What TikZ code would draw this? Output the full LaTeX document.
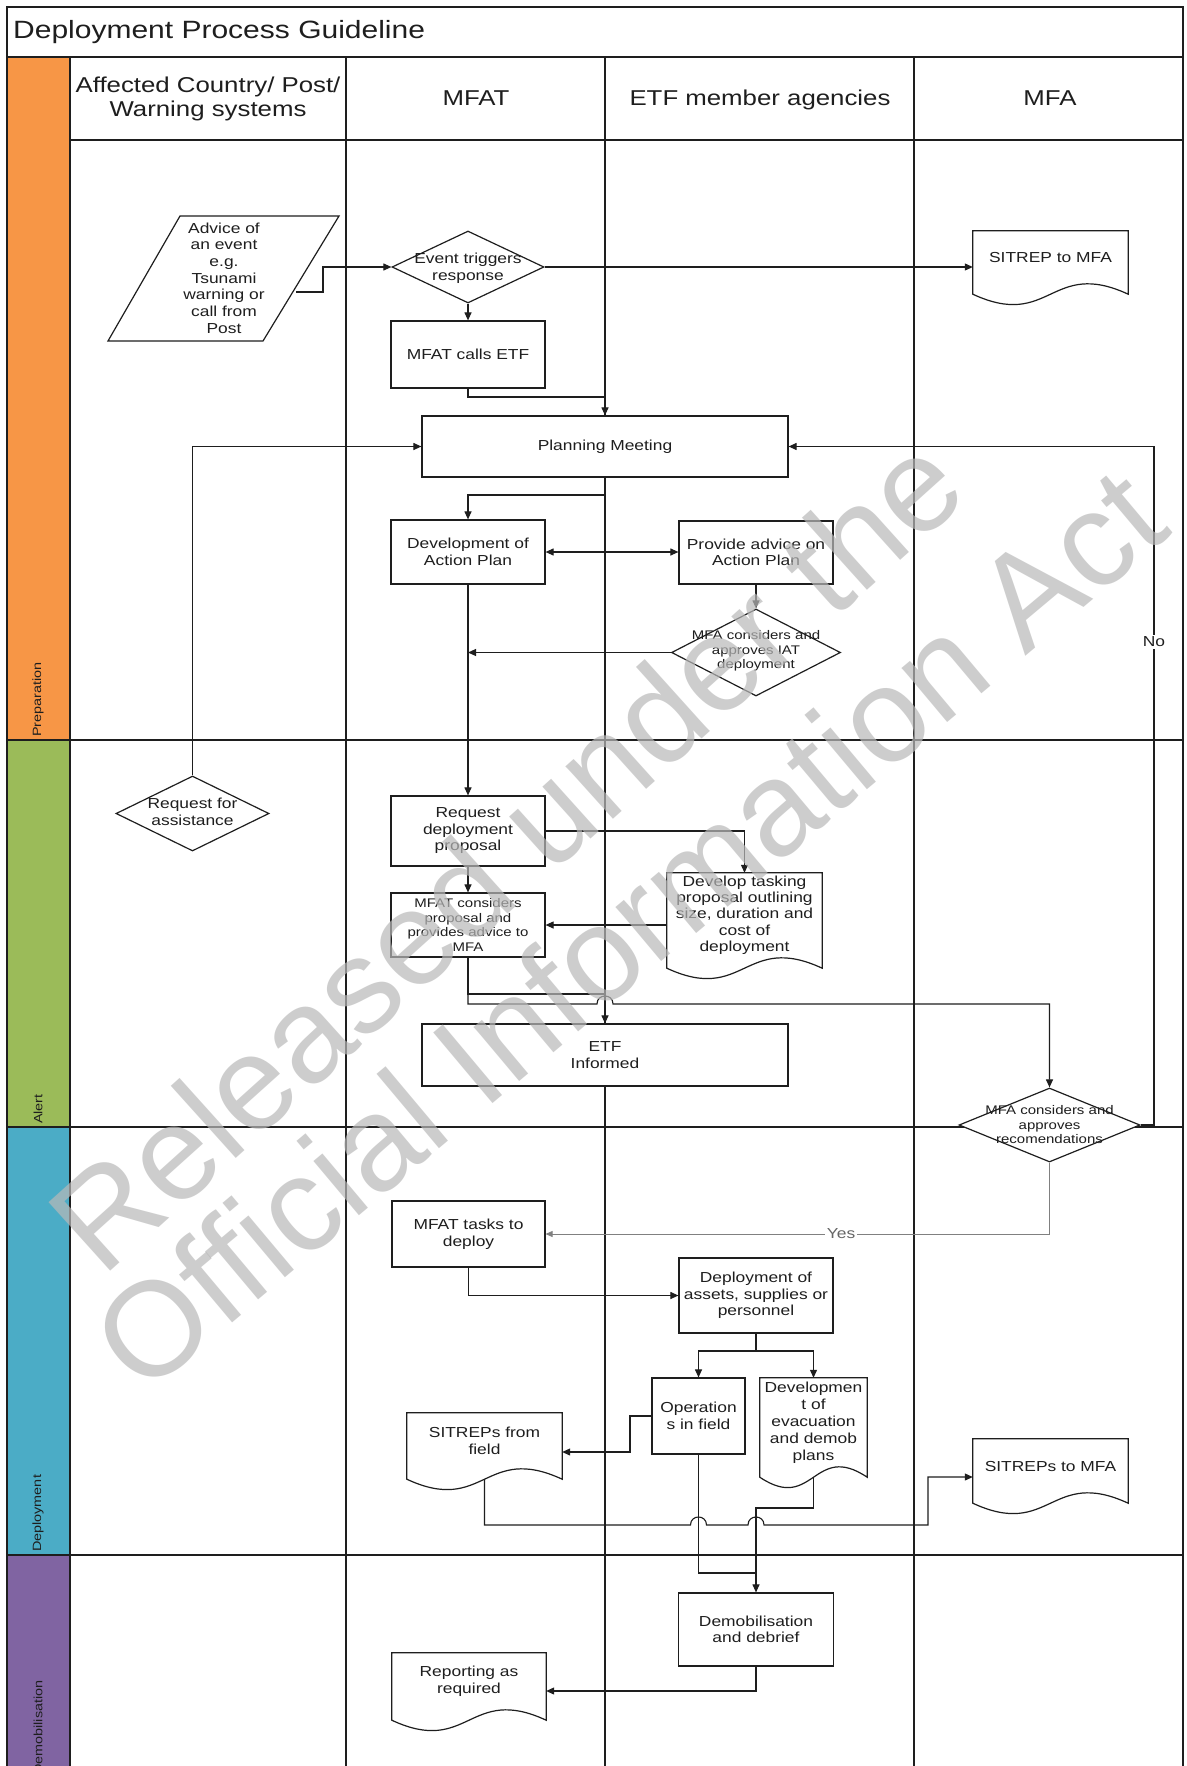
\documentclass[tikz,border=0pt]{standalone}
\usepackage{fontspec}
\setmainfont{Liberation Sans}[FakeStretch=1.2]
\newfontfamily\wmfont{Liberation Sans}
\usetikzlibrary{arrows.meta,shapes.geometric}
\definecolor{cprep}{RGB}{247,150,70}
\definecolor{calert}{RGB}{155,187,89}
\definecolor{cdeploy}{RGB}{75,172,198}
\definecolor{cdemob}{RGB}{128,100,162}
\definecolor{ink}{RGB}{30,30,30}
\pgfdeclarelayer{bg}
\pgfdeclarelayer{wm}
\pgfsetlayers{bg,main,wm}
\newcommand{\fs}[2]{\fontsize{#1}{#2}\selectfont}
\newcommand{\docoutline}[1]{%
 \draw[shapeline] (#1.south west) -- (#1.north west) -- (#1.north east) -- (#1.south east)
 .. controls ([yshift=36pt]#1.south) and ([yshift=-36pt]#1.south) .. (#1.south west) -- cycle;}
\begin{document}
\begin{tikzpicture}[x=1pt,y=-1pt,
 lane/.style={draw=ink, line width=1.6pt},
 conn/.style={draw=ink, line width=1.1pt},
 arr/.style={conn, -{Triangle[length=8pt,width=7pt]}},
 darr/.style={conn, {Triangle[length=8pt,width=7pt]}-{Triangle[length=8pt,width=7pt]}},
 yesline/.style={draw=gray, line width=0.8pt, -{Triangle[length=7pt,width=6pt]}},
 box/.style={draw=ink, fill=white, line width=1.2pt, align=center, inner sep=0pt, text=ink, font=\fs{14.5}{16.5}},
 shapeline/.style={draw=ink, fill=white, line width=1.2pt},
 doc/.style={inner sep=0pt},
 dia/.style={diamond, draw=ink, fill=white, line width=1.2pt, inner sep=0pt},
 txt/.style={align=center, inner sep=0pt, text=ink, font=\fs{14.5}{16.5}},
 small/.style={font=\fs{12.5}{14.5}},
 head/.style={align=center, text=ink, font=\fs{21.5}{24}},
 phase/.style={rotate=90, anchor=west, text=ink, font=\fs{12}{14}, inner sep=0pt},
 wm/.style={font=\wmfont\fs{134}{134}, text=gray!55, opacity=0.7, inner sep=0pt},
]
\useasboundingbox (0,0) rectangle (1186,1766);

% ---------- background: bands, frame, lanes ----------
\begin{pgfonlayer}{bg}
\fill[white] (0,0) rectangle (1186,1766);
\fill[cprep] (7,57) rectangle (70,740);
\fill[calert] (7,740) rectangle (70,1127);
\fill[cdeploy] (7,1127) rectangle (70,1555);
\fill[cdemob] (7,1555) rectangle (70,1800);
\draw[lane] (7,1800) -- (7,7) -- (1183,7) -- (1183,1800);
\draw[lane] (7,57) -- (1183,57);
\draw[lane] (70,140) -- (1183,140);
\draw[lane] (70,57) -- (70,1800);
\draw[lane] (346,57) -- (346,1800);
\draw[lane] (605,57) -- (605,1800);
\draw[lane] (914,57) -- (914,1800);
\draw[lane] (7,740) -- (1183,740);
\draw[lane] (7,1127) -- (1183,1127);
\draw[lane] (7,1555) -- (1183,1555);
\end{pgfonlayer}

% ---------- titles ----------
\node[anchor=base west, text=ink, font=\fs{25}{30}, inner sep=0pt] (title) at (13,38.5) {Deployment Process Guideline};
\node[head] (hA) at (208,99) {Affected Country/ Post/\\Warning systems};
\node[head] (hB) at (476,98) {MFAT};
\node[head, anchor=base] (hC) at (760,106) {ETF member agencies};
\node[head, anchor=base] (hD) at (1050,106) {MFA};
\node[phase] (p1) at (38,737) {Preparation};
\node[phase] (p2) at (38,1124) {Alert};
\node[phase] (p3) at (38,1552) {Deployment};
\node[phase] (p4) at (38,1775) {Demobilisation};

% ---------- shapes ----------
\draw[shapeline] (180,216) -- (339,216) -- (263,341) -- (108,341) -- cycle;
\node[txt, font=\fs{14.5}{16.7}] (adv) at (224,278) {Advice of\\an event\\e.g.\\Tsunami\\warning or\\call from\\Post};
\coordinate (advR) at (296,292);

\node[dia, minimum width=152pt, minimum height=72pt] (evt) at (468,267) {};
\node[txt] (evtT) at (468,268) {Event triggers\\response};

\node[doc, minimum width=155pt, minimum height=63pt] (sitA) at (1050.5,262.5) {};
\docoutline{sitA}
\node[txt] (sitAT) at (1050.5,258) {SITREP to MFA};

\node[box, minimum width=154pt, minimum height=67pt] (calls) at (468,354.5) {MFAT calls ETF};
\node[box, minimum width=366pt, minimum height=61pt] (plan) at (605,446.5) {Planning Meeting};
\node[box, minimum width=154pt, minimum height=64pt] (dap) at (468,552) {Development of\\Action Plan};
\node[box, minimum width=154pt, minimum height=63pt] (pad) at (756,552.5) {Provide advice on\\Action Plan};
\node[dia, minimum width=169pt, minimum height=87pt] (iat) at (756,652.5) {};
\node[txt, small] (iatT) at (756,651) {MFA considers and\\approves IAT\\deployment};

\node[dia, minimum width=153pt, minimum height=75pt] (rfa) at (192.5,813.5) {};
\node[txt] (rfaT) at (192.5,812) {Request for\\assistance};
\node[box, minimum width=154pt, minimum height=70pt] (rdp) at (468,831) {Request\\deployment\\proposal};
\node[box, small, minimum width=154pt, minimum height=64pt] (mcp) at (468,925) {MFAT considers\\proposal and\\provides advice to\\MFA};
\node[doc, minimum width=155pt, minimum height=95pt] (dtp) at (744.5,920.5) {};
\docoutline{dtp}
\node[txt, font=\fs{14.5}{16.3}] (dtpT) at (744.5,915) {Develop tasking\\proposal outlining\\size, duration and\\cost of\\deployment};
\node[box, minimum width=366pt, minimum height=62pt] (etfi) at (605,1055) {ETF\\Informed};
\node[dia, minimum width=181pt, minimum height=74pt] (mfac) at (1049.5,1125) {};
\node[txt, small] (mfacT) at (1049.5,1125) {MFA considers and\\approves\\recomendations};

\node[box, minimum width=153pt, minimum height=66pt] (mtd) at (468.5,1234) {MFAT tasks to\\deploy};
\node[box, minimum width=154pt, minimum height=75pt] (doa) at (756,1295.5) {Deployment of\\assets, supplies or\\personnel};
\node[box, minimum width=93pt, minimum height=76pt] (ops) at (698.5,1416) {Operation\\s in field};
\node[doc, minimum width=107pt, minimum height=99pt] (dev) at (813.5,1427.5) {};
\docoutline{dev}
\node[txt, font=\fs{14.5}{17}] (devT) at (813.5,1423) {Developmen\\t of\\evacuation\\and demob\\plans};
\node[doc, minimum width=155pt, minimum height=66pt] (sff) at (484.5,1446) {};
\docoutline{sff}
\node[txt] (sffT) at (484.5,1441) {SITREPs from\\field};
\node[doc, minimum width=155pt, minimum height=64pt] (stm) at (1050.5,1471) {};
\docoutline{stm}
\node[txt] (stmT) at (1050.5,1466) {SITREPs to MFA};
\node[box, minimum width=155pt, minimum height=73pt] (dmb) at (756,1629.5) {Demobilisation\\and debrief};
\node[doc, minimum width=154pt, minimum height=67pt] (rar) at (469,1686.5) {};
\docoutline{rar}
\node[txt] (rarT) at (469,1681) {Reporting as\\required};

\node[txt, fill=white, inner sep=2pt] (no) at (1154,642) {No};
\node[txt, fill=white, inner sep=2pt, text=gray!80!black] (yes) at (841,1234) {Yes};

% ---------- connectors ----------
\begin{pgfonlayer}{bg}
\draw[arr] (advR) -- (323,292) -- (323,267) -- (evt.west);
\draw[arr] (evt.east) -- (sitA.west |- evt.east);
\draw[arr] (evt.south) -- (calls.north);
\draw[arr] (calls.south) -- (468,397) -- (605,397) -- (plan.north);
\draw[arr] (plan.south) -- (605,495) -- (468,495) -- (dap.north);
\draw[darr] (dap.east) -- (pad.west |- dap.east);
\draw[arr] (pad.south) -- (iat.north);
\draw[arr] (iat.west) -- (dap.south |- iat.west);
\draw[arr] (dap.south) -- (rdp.north);
\draw[arr] (rfa.north) -- (rfa.north |- plan.west) -- (plan.west);
\draw[arr] (rdp.south) -- (mcp.north);
\draw[arr] (rdp.east) -- (dtp.north |- rdp.east) -- (dtp.north);
\draw[arr] (dtp.west |- mcp.east) -- (mcp.east);
\draw[arr] (mcp.south) -- (468,994) -- (605,994) -- (etfi.north);
\draw[arr] (mcp.south) -- (468,1004) -- (597,1004) .. controls (597,993.3) and (613,993.3) .. (613,1004) -- (1049.5,1004) -- (mfac.north);
\draw[arr] (mfac.east) -- (1154,1125) -- (1154,446.5) -- (plan.east);
\draw[yesline] (mfac.south) -- (mfac.south |- mtd.east) -- (mtd.east);
\draw[arr] (mtd.south) -- (mtd.south |- doa.west) -- (doa.west);
\draw[arr] (doa.south) -- (756,1351) -- (698.5,1351) -- (ops.north);
\draw[arr] (756,1351) -- (813.5,1351) -- (dev.north);
\draw[arr] (ops.west) -- (630,1416) -- (630,1452) -- (sff.east |- 0,1452);
\draw[conn] (ops.south) -- (698.5,1573) -- (756,1573);
\draw[arr] (dev.south) -- (813.5,1508) -- (756,1508) -- (dmb.north);
\draw[arr] (sff.south) -- (484.5,1525) -- (690.5,1525) .. controls (690.5,1514.3) and (706.5,1514.3) .. (706.5,1525) -- (748,1525) .. controls (748,1514.3) and (764,1514.3) .. (764,1525) -- (928,1525) -- (928,1477) -- (stm.west |- 0,1477);
\draw[arr] (dmb.south) -- (756,1691) -- (rar.east |- 0,1691);
\end{pgfonlayer}

% ---------- watermark ----------
\begin{pgfonlayer}{wm}
\node[wm, rotate=42] (wm1) at (505,852) {Released under the};
\node[wm, rotate=40] (wm2) at (628,928) {Official Information Act};
\end{pgfonlayer}
\end{tikzpicture}
\end{document}
